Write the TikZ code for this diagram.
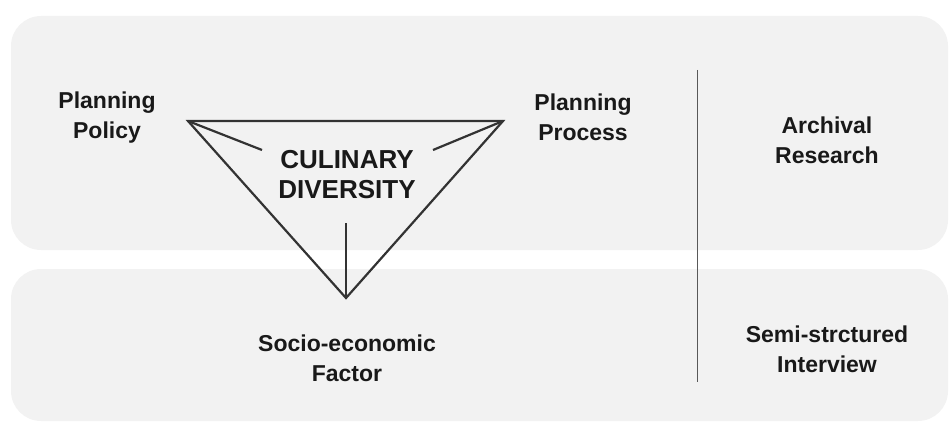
\documentclass[tikz,border=0pt]{standalone}
\usepackage{fontspec}
\setmainfont{Liberation Sans}
\usepackage{tikz}

\definecolor{panelgray}{HTML}{F2F2F2}
\definecolor{linegray}{HTML}{333333}

\begin{document}
\begin{tikzpicture}[x=1pt, y=-1pt,
        panel/.style={fill=panelgray, draw=none, rounded corners=30pt},
        label/.style={font=\fontsize{23}{30}\selectfont\bfseries, align=center, text=black!90},
        tri/.style={line width=2.2pt, draw=linegray, line join=miter}]
        \useasboundingbox (0,0) rectangle (949,422);
        % two bands
        \fill[panel] (11,16) rectangle (948,250);
        \fill[panel] (11,269) rectangle (948,421);
        % divider
        \draw[line width=1pt, color=black!65] (697,70) -- (697,382);
        % triangle corners and spoke ends
        \coordinate (pol) at (188,121);
        \coordinate (pro) at (503,121);
        \coordinate (soc) at (346,298);
        \coordinate (pole) at (262,150);
        \coordinate (proe) at (433,150);
        \coordinate (soce) at (346,223);
        \draw[tri] (pol) -- (pro) -- (soc) -- cycle;
        \draw[tri] (pol) -- (pole);
        \draw[tri] (pro) -- (proe);
        \draw[tri] (soc) -- (soce);
        \node[label, font=\fontsize{26}{30}\selectfont\bfseries] (cul) at (347,175) {CULINARY\\DIVERSITY};
        % labels
        \node[label] (policy) at (107,118) {Planning\\Policy};
        \node[label] (process) at (583,117) {Planning\\Process};
        \node[label] (factor) at (347,358) {Socio-economic\\Factor};
        \node[label] (archival) at (827,140) {Archival\\Research};
        \node[label] (interview) at (827,349) {Semi-strctured\\Interview};
    \end{tikzpicture}
\end{document}
